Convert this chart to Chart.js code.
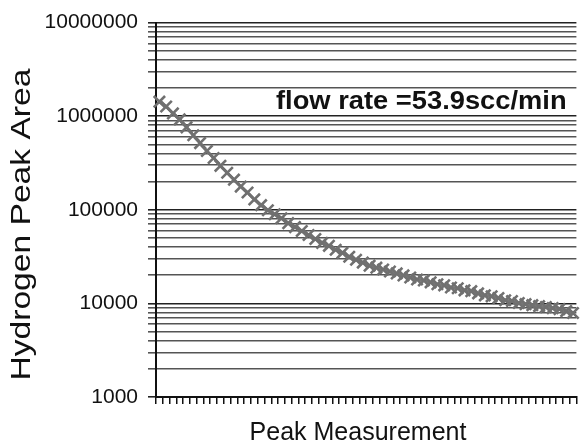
<!DOCTYPE html>
<html>
<head>
<meta charset="utf-8">
<script src="https://cdn.jsdelivr.net/npm/chart.js@4/dist/chart.umd.min.js"></script>
<style>
  html, body { margin: 0; padding: 0; background: #fff; }
  #wrap { width: 587px; height: 446px; }
</style>
</head>
<body>
<div id="wrap"><canvas id="peak-chart"></canvas></div>
<script>
const hydrogenPeakArea = [
  1430000, 1270000, 1070000, 924000, 761000, 626000, 516000, 425000, 358000, 295000,
  249000, 210000, 177000, 153000, 129000, 112000, 98800, 89700, 81300, 72000,
  65400, 59300, 53800, 48800, 44300, 41200, 37400, 34700, 31500, 29300,
  27300, 25300, 24100, 23000, 21900, 20900, 19900, 18900, 18000, 17600,
  16800, 16000, 15600, 14800, 14500, 13800, 13500, 12800, 12200, 11900,
  11400, 10800, 10600, 10100, 9820, 9580, 9350, 9130, 8910, 8700,
  8280, 7890
];
const peakNumbers = hydrogenPeakArea.map((_, i) => i + 1);

// log axis: a grid line at every 1..9 x 10^n, a label only at the decades
const yTickValues = [
  1000, 2000, 3000, 4000, 5000, 6000, 7000, 8000, 9000,
  10000, 20000, 30000, 40000, 50000, 60000, 70000, 80000, 90000,
  100000, 200000, 300000, 400000, 500000, 600000, 700000, 800000, 900000,
  1000000, 2000000, 3000000, 4000000, 5000000, 6000000, 7000000, 8000000, 9000000,
  10000000
];
const yTickLabels = ["1000", "10000", "100000", "1000000", "10000000"];

const xTitle = "Peak Measurement";
const yTitle = "Hydrogen Peak Area";
const annotationText = "flow rate =53.9scc/min";

const FONT = "'Liberation Sans', Arial, sans-serif";

const isDecade = (v) => yTickLabels.includes(String(v));

// axis titles and the text label inside the plot
// (the original's lettering is a bit stretched, so scale it a little)
const chartTexts = {
  id: "chartTexts",
  afterDraw(chart) {
    const { ctx, chartArea } = chart;
    ctx.save();
    ctx.fillStyle = "#111";
    ctx.textAlign = "center";
    ctx.textBaseline = "middle";

    // y title
    ctx.save();
    ctx.translate(22, chartArea.top + 202);
    ctx.rotate(-Math.PI / 2);
    ctx.scale(1.2, 1);
    ctx.font = "28px " + FONT;
    ctx.fillText(yTitle, 0, 0);
    ctx.restore();

    // x title
    ctx.font = "25px " + FONT;
    ctx.fillText(xTitle, chartArea.left + 202, chart.height - 13);

    // flow rate label
    ctx.save();
    ctx.translate(chartArea.left + 120, chartArea.top + 79);
    ctx.scale(1.05, 1);
    ctx.font = "bold 26px " + FONT;
    ctx.textAlign = "left";
    ctx.fillText(annotationText, 0, 0);
    ctx.restore();

    ctx.restore();
  },
};

new Chart(document.querySelector("#peak-chart").getContext("2d"), {
  type: "line",
  data: {
    labels: peakNumbers,
    datasets: [
      {
        label: yTitle,
        data: hydrogenPeakArea,
        borderColor: "#777",
        backgroundColor: "#777",
        borderWidth: 3,
        tension: 0,
        pointStyle: "crossRot",
        pointRadius: 8,
        pointBorderWidth: 2.6,
        pointBorderColor: "#707070",
      },
    ],
  },
  options: {
    responsive: true,
    maintainAspectRatio: false,
    animation: false,
    layout: { padding: { top: 18, right: 9, left: 0, bottom: 0 } },
    plugins: {
      legend: { display: false },
      tooltip: { enabled: false },
    },
    scales: {
      x: {
        type: "category",
        offset: true,
        grid: {
          offset: true,
          drawOnChartArea: false,
          drawTicks: true,
          tickLength: 7,
          color: "#111",
          lineWidth: 1.5,
        },
        border: { color: "#111", width: 2 },
        ticks: { display: false, autoSkip: false },
        afterFit(scale) {
          scale.height = 49;
        },
      },
      y: {
        type: "logarithmic",
        min: 1000,
        max: 10000000,
        afterBuildTicks(scale) {
          scale.ticks = yTickValues.map((v) => ({ value: v, major: isDecade(v) }));
        },
        grid: {
          color: (c) => (isDecade(c.tick && c.tick.value) ? "#222" : "#555"),
          lineWidth: 1.6,
          tickLength: 8,
        },
        border: { color: "#111", width: 2 },
        ticks: {
          autoSkip: false,
          padding: 10,
          color: "#111",
          font: { family: FONT, size: 21 },
          callback: (v) => (isDecade(v) ? String(v) : ""),
        },
        afterFit(scale) {
          scale.width = 156;
        },
      },
    },
  },
  plugins: [chartTexts],
});
</script>
</body>
</html>
